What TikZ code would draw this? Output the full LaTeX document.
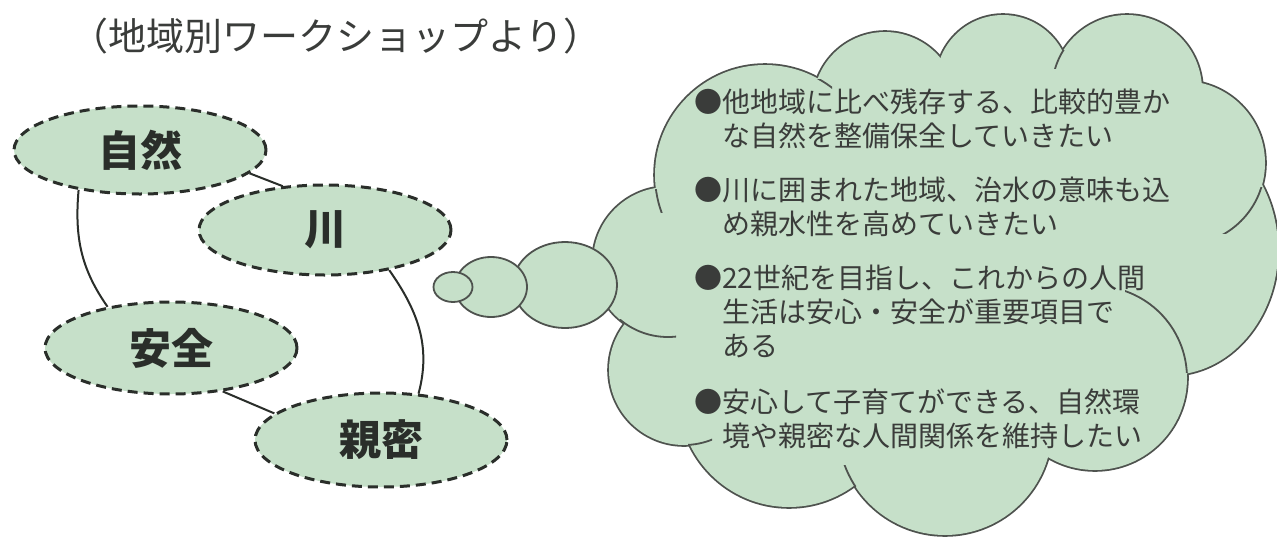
\documentclass[tikz,border=0pt]{standalone}
\usepackage{fontspec}
\setmainfont{Noto Sans CJK JP}
\usetikzlibrary{shapes.geometric}
\definecolor{leaf}{RGB}{198,224,201}
\definecolor{ink}{RGB}{42,46,42}
\definecolor{cloudink}{RGB}{78,82,78}
\definecolor{txt}{RGB}{58,60,58}
\tikzset{
  word/.style={ellipse, draw=ink, fill=leaf, line width=3pt, dash pattern=on 10pt off 6pt,
    inner sep=0pt, minimum width=252pt, text=ink, font=\fontsize{42}{42}\selectfont\bfseries},
  link/.style={draw=ink, line width=2pt},
  lobeedge/.style={draw=cloudink, line width=3.6pt},
  lobeinner/.style={draw=cloudink, line width=1.8pt},
  bubble/.style={draw=cloudink, fill=leaf, line width=1.8pt},
  itemtext/.style={anchor=base west, inner sep=0pt, align=left, text=txt,
    font=\fontsize{28}{34}\selectfont},
}
\newcommand\cloudlobes{668/262/75/75, 765/175/110/110, 885/104/72/72, 1003/82/67/67, 1127/90/75/75, 1183/163/82/82, 1170/250/108/125, 1095/378/92/92, 945/428/107/107, 789/397/110/110, 684/370/75/75}
\begin{document}
\begin{tikzpicture}[x=1pt,y=-1pt]
\fill[white] (0,0) rectangle (1277,536);
\useasboundingbox (0,0) rectangle (1277,536);

% title
\node[anchor=base west, inner sep=0pt, text=txt, font=\fontsize{38}{38}\selectfont] (title) at (70,50) {（地域別ワークショップより）};

% cloud: outline of the union of lobes
\foreach \cx/\cy/\rx/\ry in \cloudlobes {
  \draw[lobeedge] (\cx,\cy) ellipse [x radius=\rx*1pt, y radius=\ry*1pt];
}
\foreach \cx/\cy/\rx/\ry in \cloudlobes {
  \fill[leaf] (\cx,\cy) ellipse [x radius=\rx*1pt, y radius=\ry*1pt];
}
\fill[leaf] (668,262) -- (765,175) -- (885,104) -- (1003,82) -- (1127,90) -- (1183,163)
  -- (1170,250) -- (1095,378) -- (945,428) -- (789,397) -- (684,370) -- cycle;

% inner strokes of the cloud
\begin{scope} \clip (645,189) rectangle (675,212); \draw[lobeinner] (765,175) circle [radius=110pt]; \end{scope}
\begin{scope} \clip (815,79) rectangle (832,93); \draw[lobeinner] (765,175) circle [radius=110pt]; \end{scope}
\begin{scope} \clip (1045,50) rectangle (1066,68); \draw[lobeinner] (1127,90) circle [radius=75pt]; \end{scope}
\begin{scope} \clip (1200,187) rectangle (1275,233); \draw[lobeinner] (1183,163) circle [radius=82pt]; \end{scope}
\begin{scope} \clip (1125,280) rectangle (1200,372); \draw[lobeinner] (1095,378) circle [radius=92pt]; \end{scope}
\begin{scope} \clip (835,465) rectangle (856,488); \draw[lobeinner] (945,428) circle [radius=107pt]; \end{scope}
\begin{scope} \clip (620,319) rectangle (676,340); \draw[lobeinner] (668,262) circle [radius=75pt]; \end{scope}
\begin{scope} \clip (688,430) rectangle (712,447); \draw[lobeinner] (684,370) circle [radius=75pt]; \end{scope}

% thought bubbles
\draw[bubble] (565,285) ellipse [x radius=52pt, y radius=43pt];
\draw[bubble] (491,287) ellipse [x radius=36pt, y radius=30pt];
\draw[bubble] (453,287) ellipse [x radius=19.5pt, y radius=15pt];

% cloud text (base anchor = baseline of the last line)
\node[itemtext] (item1) at (694,146) {●他地域に比べ残存する、比較的豊か\\\hspace*{1em}な自然を整備保全していきたい};
\node[itemtext] (item2) at (694,234) {●川に囲まれた地域、治水の意味も込\\\hspace*{1em}め親水性を高めていきたい};
\node[itemtext] (item3) at (694,356) {●22世紀を目指し、これからの人間\\\hspace*{1em}生活は安心・安全が重要項目で\\\hspace*{1em}ある};
\node[itemtext] (item4) at (694,446) {●安心して子育てができる、自然環\\\hspace*{1em}境や親密な人間関係を維持したい};

% keyword ellipses
\node[word, minimum height=88pt] (ziran) at (140,150) {自然};
\node[word, minimum height=90pt] (kawa) at (325,230) {川};
\node[word, minimum height=92pt] (anzen) at (171,348) {安全};
\node[word, minimum height=94pt] (shinmitsu) at (381,440) {親密};

% connectors
\draw[link] (ziran.-12) -- (kawa.134);
\draw[link] (ziran.213) to[out=-95, in=125] (anzen.147);
\draw[link] (kawa.-32) to[out=-55, in=75] (shinmitsu.51);
\draw[link] (anzen.-40) -- (shinmitsu.166);
\end{tikzpicture}
\end{document}
